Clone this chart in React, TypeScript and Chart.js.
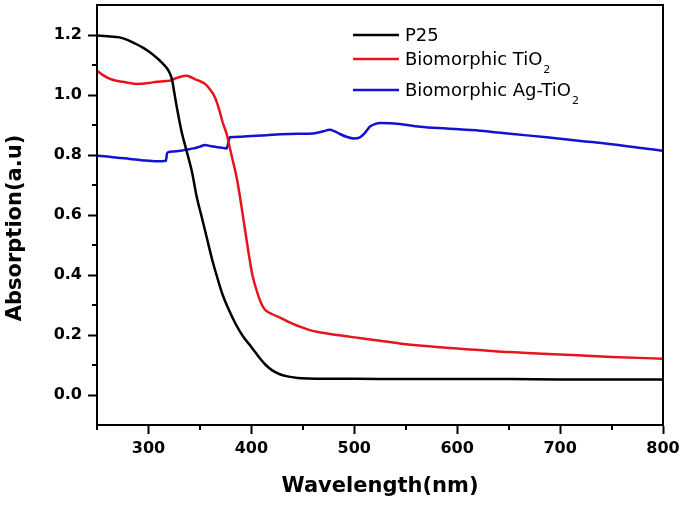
import { useEffect, useRef } from 'react';
import { Chart, registerables } from 'chart.js';

Chart.register(...registerables);

// ---- data ----
const p25Wavelength = [250, 260, 272, 280, 288, 295, 302, 308, 313, 317, 320, 323, 325, 327, 332, 337, 342, 347, 352, 357, 362, 367, 372, 378, 385, 392, 400, 407, 414, 420, 427, 435, 445, 455, 470, 500, 550, 600, 650, 700, 750, 800];
const p25Absorption = [1.198, 1.196, 1.192, 1.183, 1.17, 1.157, 1.141, 1.124, 1.108, 1.093, 1.078, 1.05, 1.01, 0.97, 0.881, 0.814, 0.748, 0.659, 0.59, 0.52, 0.45, 0.39, 0.335, 0.285, 0.235, 0.195, 0.16, 0.128, 0.1, 0.083, 0.07, 0.062, 0.057, 0.055, 0.054, 0.054, 0.053, 0.053, 0.053, 0.052, 0.052, 0.052];

const tio2Wavelength = [250, 255, 260, 266, 275, 288, 300, 308, 315, 321, 326, 331, 337, 341, 345, 350, 355, 359, 363, 366, 369, 372, 376, 379, 382, 386, 389, 393, 397, 401, 405, 409, 413, 420, 428, 437, 447, 456, 466, 485, 505, 525, 544, 563, 583, 603, 622, 650, 700, 750, 800];
const tio2Absorption = [1.081, 1.068, 1.058, 1.05, 1.044, 1.037, 1.04, 1.044, 1.046, 1.048, 1.055, 1.061, 1.064, 1.06, 1.053, 1.046, 1.037, 1.022, 1.003, 0.98, 0.948, 0.91, 0.87, 0.825, 0.781, 0.72, 0.659, 0.57, 0.48, 0.4, 0.35, 0.31, 0.285, 0.27, 0.258, 0.242, 0.228, 0.217, 0.209, 0.199, 0.19, 0.181, 0.172, 0.165, 0.159, 0.154, 0.15, 0.143, 0.135, 0.127, 0.121];

const agTio2Wavelength = [250, 260, 270, 282, 295, 308, 317, 318, 319, 325, 331, 337, 344, 350, 355, 360, 363, 370, 376, 377.5, 379, 390, 400, 415, 428, 445, 460, 470, 476, 481, 486, 493, 500, 505, 510, 515, 520, 525, 535, 544, 564, 590, 622, 654, 687, 720, 760, 800];
const agTio2Absorption = [0.798, 0.795, 0.791, 0.787, 0.782, 0.779, 0.781, 0.805, 0.809, 0.812, 0.814, 0.818, 0.822, 0.828, 0.833, 0.83, 0.828, 0.825, 0.822, 0.84, 0.859, 0.861, 0.863, 0.866, 0.869, 0.871, 0.872, 0.879, 0.884, 0.879, 0.87, 0.86, 0.855, 0.858, 0.872, 0.894, 0.903, 0.907, 0.906, 0.903, 0.894, 0.888, 0.881, 0.87, 0.859, 0.847, 0.832, 0.814];

const seriesLabels = ['P25', 'Biomorphic TiO\u2082', 'Biomorphic Ag-TiO\u2082'];
const seriesColors = ['#000000', '#e6141c', '#1212d2'];

const xMajorTicks = [300, 400, 500, 600, 700, 800];
const xMinorTicks = [250, 350, 450, 550, 650, 750];
const yMajorTicks = [0, 0.2, 0.4, 0.6, 0.8, 1.0, 1.2];
const yMinorTicks = [0.1, 0.3, 0.5, 0.7, 0.9, 1.1];

const xTitle = 'Wavelength(nm)';
const yTitle = 'Absorption(a.u)';

const FONT = '"DejaVu Sans", "Liberation Sans", Arial, sans-serif';

function toPoints(xs: number[], ys: number[]) {
  return xs.map((x, i) => ({ x, y: ys[i] }));
}

const decorPlugin = {
  id: 'decor',
  afterDraw(chart: any) {
    const { ctx, chartArea: a, scales } = chart;
    ctx.save();
    ctx.strokeStyle = '#000';
    ctx.lineWidth = 2;
    ctx.strokeRect(a.left, a.top, a.right - a.left, a.bottom - a.top);

    // minor ticks
    ctx.beginPath();
    xMinorTicks.forEach((v) => {
      const px = Math.round(scales.x.getPixelForValue(v));
      ctx.moveTo(px, a.bottom);
      ctx.lineTo(px, a.bottom + 5);
    });
    yMinorTicks.forEach((v) => {
      const py = Math.round(scales.y.getPixelForValue(v));
      ctx.moveTo(a.left - 5, py);
      ctx.lineTo(a.left, py);
    });
    ctx.stroke();

    // legend
    const rowOffsets = [30, 54, 85];
    const lineStart = a.left + 256;
    const lineEnd = a.left + 302;
    const textX = a.left + 308;
    chart.data.datasets.forEach((ds: any, i: number) => {
      const y = a.top + rowOffsets[i];
      ctx.strokeStyle = ds.borderColor;
      ctx.lineWidth = 2.5;
      ctx.beginPath();
      ctx.moveTo(lineStart, y);
      ctx.lineTo(lineEnd, y);
      ctx.stroke();
      const label: string = ds.label;
      const parts = label.split('\u2082');
      ctx.fillStyle = '#000';
      ctx.textAlign = 'left';
      ctx.textBaseline = 'alphabetic';
      ctx.font = `18px ${FONT}`;
      ctx.fillText(parts[0], textX, y + 6);
      if (parts.length > 1) {
        const w = ctx.measureText(parts[0]).width;
        ctx.font = `11px ${FONT}`;
        ctx.fillText('2', textX + w + 1, y + 14);
      }
    });

    // y axis title
    ctx.translate(16, 228);
    ctx.rotate(-Math.PI / 2);
    ctx.font = `bold 21px ${FONT}`;
    ctx.fillStyle = '#000';
    ctx.textAlign = 'center';
    ctx.textBaseline = 'middle';
    ctx.fillText(yTitle, 0, 0);
    ctx.restore();
  },
};

export default function App() {
  const canvasRef = useRef<HTMLCanvasElement | null>(null);

  useEffect(() => {
    document.body.style.margin = '0';
    const canvas = canvasRef.current;
    if (!canvas) return;
    const tickFont = { family: FONT, size: 16, weight: 'bold' as const };
    const chart = new Chart(canvas, {
      type: 'line',
      data: {
        datasets: [
          { label: seriesLabels[0], data: toPoints(p25Wavelength, p25Absorption), borderColor: seriesColors[0] },
          { label: seriesLabels[1], data: toPoints(tio2Wavelength, tio2Absorption), borderColor: seriesColors[1] },
          { label: seriesLabels[2], data: toPoints(agTio2Wavelength, agTio2Absorption), borderColor: seriesColors[2] },
        ].map((d) => ({
          ...d,
          borderWidth: 2.5,
          pointRadius: 0,
          fill: false,
          cubicInterpolationMode: 'monotone' as const,
        })),
      },
      options: {
        animation: false,
        responsive: false,
        devicePixelRatio: 1,
        layout: { padding: { left: 0, right: 22, top: 5, bottom: 0 } },
        plugins: { legend: { display: false }, tooltip: { enabled: false } },
        scales: {
          x: {
            type: 'linear',
            min: 250,
            max: 800,
            afterBuildTicks: (s: any) => {
              s.ticks = xMajorTicks.map((v) => ({ value: v }));
            },
            afterFit: (s: any) => {
              s.height = 82;
              s.paddingLeft = 0;
              s.paddingRight = 0;
            },
            grid: { display: true, drawOnChartArea: false, drawTicks: true, tickLength: 9, tickWidth: 2, tickColor: '#000' },
            border: { display: true, color: '#000', width: 2 },
            ticks: { color: '#000', font: tickFont, padding: 5, maxRotation: 0, autoSkip: false, callback: (v: any) => String(v) },
            title: { display: true, text: xTitle, color: '#000', font: { family: FONT, size: 21, weight: 'bold' }, padding: { top: 0, bottom: 8 } },
          },
          y: {
            type: 'linear',
            min: -0.1,
            max: 1.3,
            afterBuildTicks: (s: any) => {
              s.ticks = yMajorTicks.map((v) => ({ value: v }));
            },
            afterFit: (s: any) => {
              s.width = 97;
              s.paddingTop = 0;
              s.paddingBottom = 0;
            },
            grid: { display: true, drawOnChartArea: false, drawTicks: true, tickLength: 9, tickWidth: 2, tickColor: '#000' },
            border: { display: true, color: '#000', width: 2 },
            ticks: { color: '#000', font: tickFont, padding: 6, autoSkip: false, callback: (v: any) => Number(v).toFixed(1) },
          },
        },
      },
      plugins: [decorPlugin],
    });
    return () => chart.destroy();
  }, []);

  return (
    <div style={{ width: 685, height: 507, background: '#fff' }}>
      <canvas ref={canvasRef} width={685} height={507} style={{ display: 'block' }} />
    </div>
  );
}
